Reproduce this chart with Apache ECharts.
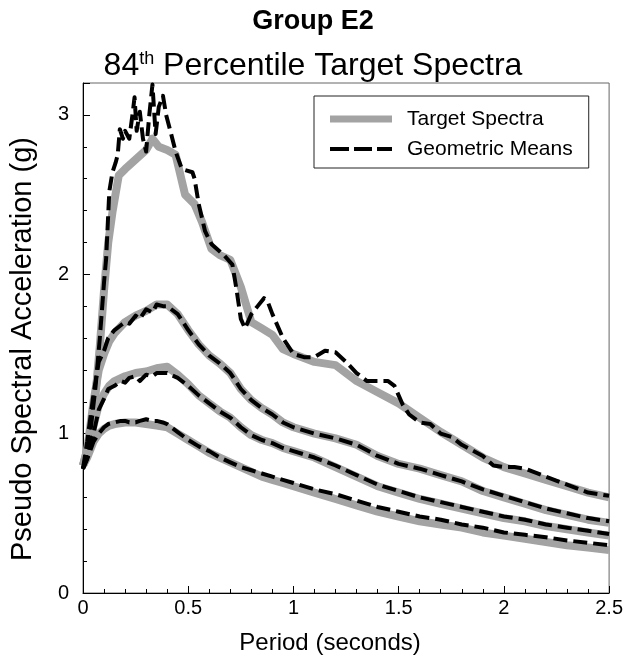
<!DOCTYPE html>
<html>
<head>
<meta charset="utf-8">
<script src="https://cdn.jsdelivr.net/npm/echarts@6/dist/echarts.min.js"></script>
<style>
html,body{margin:0;padding:0;background:#fff;}
#chart{width:626px;height:665px;}
</style>
</head>
<body>
<div id="chart"></div>
<script>
// Target spectra (period in seconds, acceleration in g)
const periodsT1 = [0,0.03,0.06,0.08,0.1,0.12,0.14,0.17,0.2,0.25,0.3,0.33,0.36,0.4,0.44,0.485,0.53,0.565,0.61,0.65,0.7,0.75,0.8,0.85,0.9,0.95,1.0,1.1,1.2,1.3,1.4,1.5,1.6,1.7,1.8,1.9,2.0,2.1,2.2,2.3,2.4,2.5];
const target1 = [0.80,0.95,1.25,1.55,1.9,2.2,2.39,2.62,2.66,2.72,2.78,2.85,2.8,2.78,2.75,2.5,2.44,2.33,2.16,2.12,2.09,1.92,1.70,1.66,1.62,1.53,1.5,1.45,1.43,1.33,1.26,1.19,1.1,1.01,0.93,0.85,0.79,0.75,0.71,0.67,0.63,0.60];
const periodsTarget = [0,0.02,0.05,0.075,0.1,0.125,0.15,0.2,0.25,0.3,0.35,0.4,0.45,0.5,0.55,0.6,0.65,0.7,0.75,0.8,0.85,0.9,0.95,1.0,1.1,1.2,1.3,1.4,1.5,1.6,1.7,1.8,1.9,2.0,2.1,2.2,2.3,2.4,2.5];
const target2 = [0.80,0.9,1.2,1.4,1.5,1.58,1.63,1.70,1.74,1.77,1.81,1.81,1.75,1.65,1.56,1.49,1.44,1.38,1.28,1.21,1.16,1.12,1.07,1.04,1.0,0.97,0.93,0.86,0.81,0.78,0.74,0.70,0.64,0.60,0.56,0.52,0.49,0.46,0.44];
const target3 = [0.80,0.88,1.05,1.18,1.25,1.3,1.33,1.36,1.38,1.39,1.41,1.42,1.37,1.31,1.24,1.19,1.14,1.10,1.04,0.99,0.96,0.94,0.91,0.89,0.85,0.79,0.73,0.67,0.63,0.59,0.56,0.53,0.50,0.47,0.45,0.42,0.40,0.38,0.36];
const target4 = [0.80,0.85,0.95,1.0,1.03,1.05,1.06,1.07,1.07,1.06,1.05,1.04,1.0,0.96,0.92,0.88,0.85,0.82,0.79,0.76,0.73,0.71,0.69,0.67,0.63,0.59,0.55,0.51,0.48,0.45,0.43,0.41,0.38,0.36,0.34,0.32,0.30,0.285,0.27];

// Geometric means
const periodsGM1 = [0,0.03,0.06,0.08,0.1,0.11,0.125,0.14,0.155,0.165,0.175,0.19,0.2,0.22,0.235,0.245,0.255,0.27,0.285,0.3,0.315,0.33,0.345,0.36,0.38,0.395,0.415,0.44,0.47,0.52,0.53,0.55,0.58,0.61,0.67,0.71,0.73,0.75,0.77,0.8,0.83,0.86,0.88,0.9,0.95,1.0,1.05,1.1,1.15,1.2,1.25,1.3,1.35,1.4,1.45,1.48,1.52,1.55,1.6,1.65,1.7,1.75,1.8,1.9,1.95,2.0,2.05,2.1,2.2,2.3,2.4,2.5];
const gm1 = [0.78,0.95,1.3,1.6,1.95,2.1,2.52,2.64,2.7,2.75,2.91,2.85,2.9,2.85,3.0,3.11,2.9,3.02,2.85,2.77,3.0,3.19,2.88,3.05,3.12,3.0,2.9,2.77,2.66,2.64,2.6,2.44,2.27,2.19,2.12,2.06,1.9,1.72,1.66,1.75,1.8,1.85,1.82,1.75,1.6,1.5,1.48,1.48,1.52,1.51,1.45,1.38,1.33,1.33,1.33,1.3,1.18,1.12,1.07,1.06,1.0,0.98,0.93,0.86,0.80,0.79,0.79,0.78,0.73,0.68,0.63,0.61];
const periodsGM = [0,0.02,0.05,0.075,0.1,0.12,0.15,0.18,0.2,0.22,0.25,0.27,0.3,0.33,0.35,0.38,0.4,0.45,0.5,0.55,0.6,0.65,0.7,0.75,0.8,0.85,0.9,0.95,1.0,1.1,1.2,1.3,1.4,1.5,1.6,1.7,1.8,1.9,2.0,2.1,2.2,2.3,2.4,2.5];
const gm2 = [0.78,0.95,1.25,1.45,1.52,1.6,1.65,1.68,1.7,1.69,1.74,1.72,1.78,1.76,1.81,1.80,1.80,1.75,1.65,1.56,1.49,1.44,1.38,1.28,1.21,1.16,1.12,1.07,1.04,1.0,0.97,0.93,0.86,0.81,0.78,0.74,0.70,0.65,0.61,0.57,0.53,0.50,0.47,0.45];
const gm3 = [0.78,0.85,1.0,1.15,1.22,1.28,1.3,1.33,1.32,1.35,1.36,1.33,1.37,1.36,1.38,1.38,1.38,1.35,1.30,1.24,1.19,1.14,1.10,1.04,0.99,0.96,0.94,0.91,0.89,0.85,0.80,0.74,0.68,0.64,0.60,0.57,0.54,0.51,0.48,0.46,0.43,0.41,0.39,0.37];
const gm4 = [0.78,0.84,0.95,1.0,1.04,1.06,1.07,1.08,1.08,1.07,1.07,1.08,1.09,1.08,1.08,1.07,1.06,1.01,0.96,0.92,0.89,0.85,0.82,0.79,0.77,0.75,0.73,0.71,0.69,0.65,0.62,0.58,0.54,0.51,0.48,0.46,0.43,0.41,0.38,0.365,0.35,0.33,0.315,0.30];

const xTicks = [0,0.5,1,1.5,2,2.5];
const yTicks = [0,1,2,3];

function pairs(xs, ys){ return xs.map((x,i)=>[x, ys[i]]); }

const font = 'Liberation Sans, Arial, sans-serif';
const grey = '#a3a3a3';
const targetStyle = {color:grey, width:8, cap:'butt', join:'round'};
const gmStyle = {color:'#000', width:4, type:[14,6], cap:'butt', join:'round'};

const series = [];
[[periodsT1,target1],[periodsTarget,target2],[periodsTarget,target3],[periodsTarget,target4]].forEach(([p,t])=>{
  series.push({name:'Target Spectra', type:'line', data:pairs(p,t), symbol:'none', lineStyle:targetStyle, itemStyle:{color:grey}, z:2, silent:true});
});
series.push({name:'Geometric Means', type:'line', data:pairs(periodsGM1,gm1), symbol:'none', lineStyle:gmStyle, itemStyle:{color:'#000'}, z:3, silent:true});
[gm2,gm3,gm4].forEach(g=>{
  series.push({name:'Geometric Means', type:'line', data:pairs(periodsGM,g), symbol:'none', lineStyle:gmStyle, itemStyle:{color:'#000'}, z:3, silent:true});
});

const chart = echarts.init(document.getElementById('chart'), null, {renderer:'canvas'});
chart.setOption({
  animation:false,
  backgroundColor:'#fff',
  title:[
    {text:'Group E2', left:'center', top:3, textStyle:{fontFamily:font, fontSize:27, fontWeight:'bold', color:'#000'}},
    {text:'84{sup|th} Percentile Target Spectra', left:'center', top:45,
     textStyle:{fontFamily:font, fontSize:32, fontWeight:'normal', color:'#000',
       rich:{sup:{fontFamily:font, fontSize:18, verticalAlign:'top', padding:[0,0,14,0], color:'#000'}}}}
  ],
  legend:{
    data:[
      {name:'Target Spectra', icon:'path://M0,0H62V7H0Z'},
      {name:'Geometric Means', icon:'path://M0,0h0.01v7h-0.01Z M0,1.5H19V5.5H0Z M24,1.5H42V5.5H24Z M47,1.5H62V5.5H47Z'}
    ],
    orient:'vertical', left:314, top:96,
    padding:[11,16,7,16], itemGap:6, itemWidth:62, itemHeight:7,
    borderColor:'#222', borderWidth:1, backgroundColor:'#fff',
    textStyle:{fontFamily:font, fontSize:21, color:'#000', padding:[0,0,0,10], lineHeight:24},
    selectedMode:false
  },
  grid:{left:80, right:15, top:83, bottom:72, show:true, borderColor:'#666', borderWidth:1, backgroundColor:'transparent'},
  xAxis:{
    type:'value', min:0, max:2.5, interval:0.5,
    name:'Period (seconds)', nameLocation:'middle', nameGap:38,
    nameTextStyle:{fontFamily:font, fontSize:24, color:'#000', padding:[0,32,0,0]},
    axisLine:{show:true, onZero:false, lineStyle:{color:'#000', width:1}},
    axisTick:{show:true, inside:true, length:7, lineStyle:{color:'#000'}},
    minorTick:{show:true, splitNumber:5, length:4, lineStyle:{color:'#000'}},
    splitLine:{show:false},
    axisLabel:{fontFamily:font, fontSize:20, color:'#000', margin:5,
      formatter:v=>{const t=xTicks.find(k=>Math.abs(k-v)<1e-9); return t===undefined?'':String(t);}}
  },
  yAxis:{
    type:'value', min:0, max:3.2, interval:1,
    name:'Pseudo Spectral Acceleration (g)', nameLocation:'middle', nameGap:46,
    nameTextStyle:{fontFamily:font, fontSize:29, color:'#000', padding:[0,22,0,0]},
    axisLine:{show:true, onZero:false, lineStyle:{color:'#000', width:1}},
    axisTick:{show:true, inside:true, length:7, lineStyle:{color:'#000'}},
    minorTick:{show:true, splitNumber:5, length:4, lineStyle:{color:'#000'}},
    splitLine:{show:false},
    axisLabel:{fontFamily:font, fontSize:20, color:'#000', margin:14, showMaxLabel:false,
      formatter:v=>{const t=yTicks.find(k=>Math.abs(k-v)<1e-9); return t===undefined?'':String(t);}}
  },
  series:series
});
</script>
</body>
</html>
